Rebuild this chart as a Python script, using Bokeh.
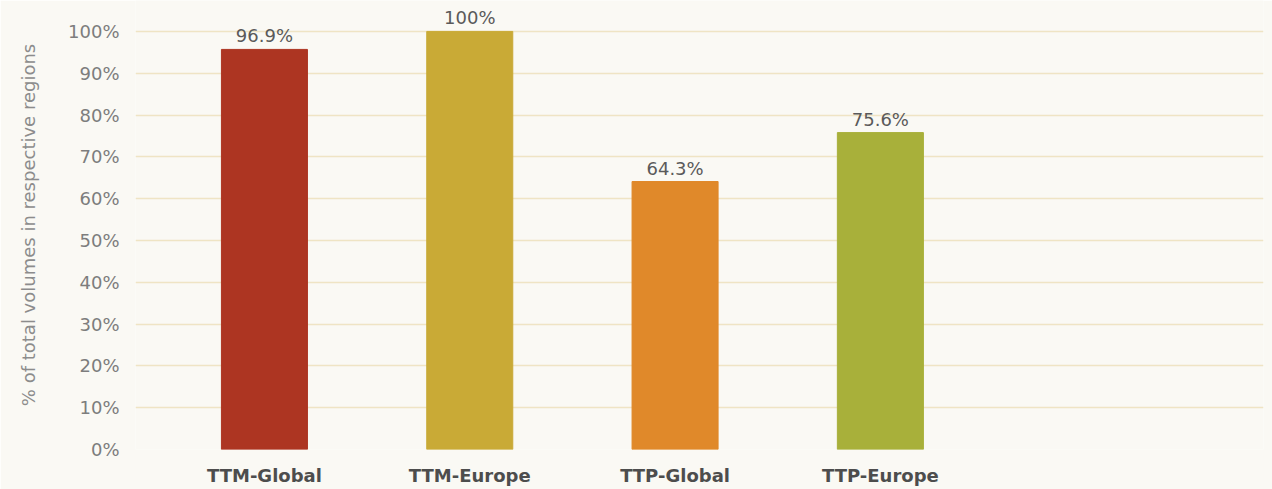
from bokeh.plotting import figure
from bokeh.models import ColumnDataSource, FixedTicker, Range1d
from bokeh.core.properties import value
from bokeh.embed import file_html
from bokeh.resources import INLINE

categories = ["TTM-Global", "TTM-Europe", "TTP-Global", "TTP-Europe"]
shares = [95.7, 100.0, 64.1, 75.8]
labels = ["96.9%", "100%", "64.3%", "75.6%"]
colors = ["#ad3522", "#c9aa36", "#e0892a", "#a8b03a"]
y_ticks = [0, 10, 20, 30, 40, 50, 60, 70, 80, 90, 100]

FONT = "DejaVu Sans"
BG = "#faf9f4"

xs = list(range(len(categories)))
src = ColumnDataSource(dict(x=xs, top=shares, label=labels, color=colors))

p = figure(width=1272, height=489, output_backend="svg", toolbar_location=None,
           x_range=Range1d(-0.628, 4.866), y_range=Range1d(0, 107.4),
           min_border_left=135, min_border_right=9, min_border_top=0,
           min_border_bottom=40)
p.background_fill_color = BG
p.border_fill_color = BG
p.outline_line_color = None

p.vbar(x="x", top="top", width=0.419, color="color", source=src)
p.text(x="x", y="top", text="label", source=src, text_align="center",
       text_baseline="bottom", y_offset=-3, text_font=value(FONT),
       text_font_size="18px", text_color="#5a5a5a")

p.xgrid.grid_line_color = None
p.ygrid.grid_line_color = "#efe4c4"
p.ygrid.grid_line_width = 1.5
p.ygrid.ticker = FixedTicker(ticks=y_ticks)

p.yaxis.ticker = FixedTicker(ticks=y_ticks)
p.yaxis.major_label_overrides = {t: f"{t}%" for t in y_ticks}
p.yaxis.axis_line_color = None
p.yaxis.major_tick_line_color = None
p.yaxis.minor_tick_line_color = None
p.yaxis.major_tick_out = 0
p.yaxis.major_label_standoff = 16
p.yaxis.major_label_text_font = FONT
p.yaxis.major_label_text_font_size = "18px"
p.yaxis.major_label_text_color = "#7d7d7d"
p.yaxis.axis_label = "% of total volumes in respective regions"
p.yaxis.axis_label_text_font = FONT
p.yaxis.axis_label_text_font_size = "18px"
p.yaxis.axis_label_text_font_style = "normal"
p.yaxis.axis_label_text_color = "#8c8c8c"
p.yaxis.axis_label_standoff = 26

p.xaxis.ticker = FixedTicker(ticks=xs)
p.xaxis.major_label_overrides = {i: c for i, c in enumerate(categories)}
p.xaxis.axis_line_color = None
p.xaxis.major_tick_line_color = None
p.xaxis.minor_tick_line_color = None
p.xaxis.major_tick_out = 0
p.xaxis.major_label_standoff = 15
p.xaxis.major_label_text_font = FONT
p.xaxis.major_label_text_font_size = "18px"
p.xaxis.major_label_text_font_style = "bold"
p.xaxis.major_label_text_color = "#4d4d4d"

open("out.html", "w").write(file_html(p, INLINE))
